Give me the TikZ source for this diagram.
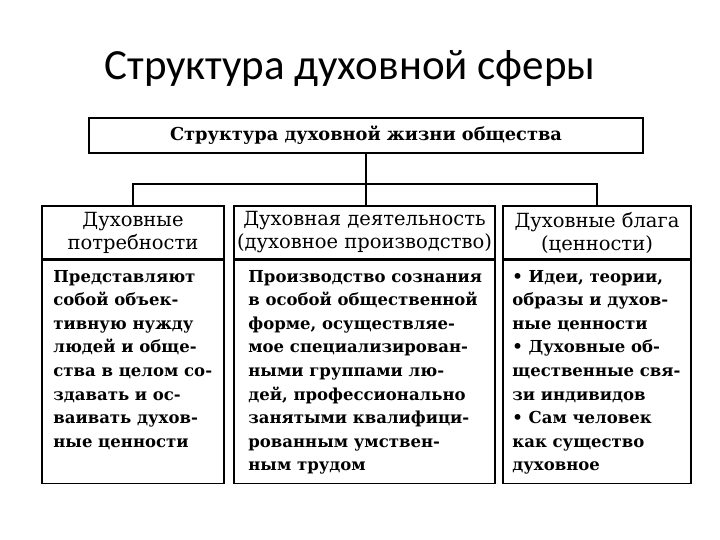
\documentclass[tikz,border=0pt]{standalone}
\usepackage{fontspec}
\setmainfont{DejaVu Serif}
\newfontfamily\slidefont{Carlito}
\usetikzlibrary{positioning}
\setlength{\parindent}{0pt}

\begin{document}
\begin{tikzpicture}[x=1pt, y=1pt,
		frame/.style={draw, line width=1.6pt, inner sep=0pt},
		headtext/.style={font=\fontsize{19.5}{23}\selectfont, align=center},
		bodytext/.style={
			font=\fontsize{16.5}{23.6}\selectfont\bfseries,
			align=left, inner sep=0pt, anchor=north west
		},
		link/.style={line width=1.3pt}
		]
		
		\useasboundingbox (0,0) rectangle (720,-540);
		
		\node[font=\slidefont\fontsize{43}{50}\selectfont, anchor=base] (title)
		at (350,-80) {Структура духовной сферы};
		
		\node[frame, minimum width=554, minimum height=35,
		font=\bfseries\fontsize{17.8}{20}\selectfont] (top) at (366,-135.5)
		{Структура духовной жизни общества};
		
		% column heads
		\node[frame, headtext, minimum width=182, minimum height=53] (needs)
		at (133,-232.5) {Духовные\\потребности};
		\node[frame, headtext, minimum width=261, minimum height=53] (activity)
		at (364.5,-232.5) {Духовная деятельность\\(духовное производство)};
		\node[frame, headtext, minimum width=188, minimum height=53] (values)
		at (597,-232.5) {Духовные блага\\(ценности)};
		
		% column bodies
		\node[frame, minimum width=182, minimum height=223, below=0pt of needs] (needsbox) {};
		\node[frame, minimum width=261, minimum height=223, below=0pt of activity] (activitybox) {};
		\node[frame, minimum width=188, minimum height=223, below=0pt of values] (valuesbox) {};
		
		\node[bodytext] (needstext) at ([shift={(12,-10)}]needsbox.north west)
		{Представляют\\собой объек-\\тивную нужду\\людей и обще-\\ства в целом со-\\здавать и ос-\\ваивать духов-\\ные ценности};
		\node[bodytext] (activitytext) at ([shift={(15,-10)}]activitybox.north west)
		{Производство сознания\\в особой общественной\\форме, осуществляе-\\мое специализирован-\\ными группами лю-\\дей, профессионально\\занятыми квалифици-\\рованным умствен-\\ным трудом};
		\node[bodytext] (valuestext) at ([shift={(10,-10)}]valuesbox.north west)
		{• Идеи, теории,\\образы и духов-\\ные ценности\\• Духовные об-\\щественные свя-\\зи индивидов\\• Сам человек\\как существо\\духовное};
		
		% connectors
		\coordinate (bus) at (364.5,-184);
		\draw[link] (needs.north) |- (bus) -| (values.north);
		\draw[link] (top.south) -- (top.south |- activity.north);
		
	\end{tikzpicture}
\end{document}
